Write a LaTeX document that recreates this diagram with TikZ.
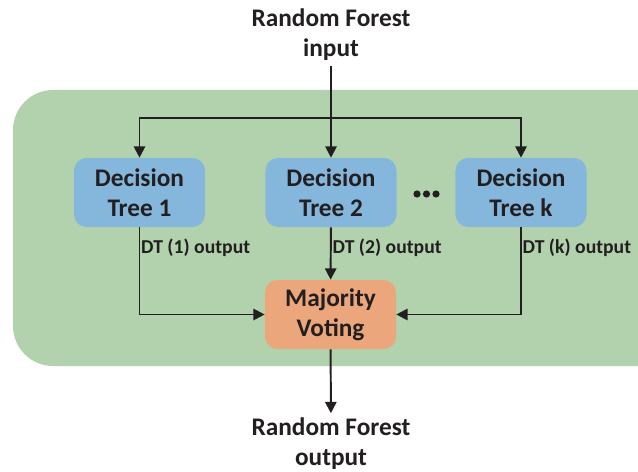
\documentclass[tikz,border=0pt]{standalone}
\usepackage{fontspec}
\setmainfont{Carlito}
\usetikzlibrary{arrows.meta}

\definecolor{panelgreen}{RGB}{178,210,174}
\definecolor{treeblue}{RGB}{133,182,220}
\definecolor{voteorange}{RGB}{235,166,123}
\definecolor{inkdark}{RGB}{35,31,32}

\tikzset{
  box/.style={rounded corners=9pt, minimum width=3.275cm, minimum height=1.725cm,
    align=center, text=inkdark, font=\fontsize{18}{21.3}\selectfont\bfseries},
  tree/.style={box, fill=treeblue},
  vote/.style={box, fill=voteorange},
  title/.style={align=center, text=inkdark, font=\fontsize{18}{21.3}\selectfont\bfseries},
  lab/.style={anchor=west, inner sep=1pt, text=inkdark, font=\fontsize{14}{15}\selectfont\bfseries},
  arr/.style={-{Triangle[length=8pt,width=8pt]}, line width=1.4pt, draw=inkdark}
}

\begin{document}
\begin{tikzpicture}[x=0.025cm, y=-0.025cm]
    \useasboundingbox (0,0) rectangle (638,472);
    % panel
    \fill[panelgreen, rounded corners=1cm] (13,90) rectangle (680,366);

    % input / output
    \node[title] (in) at (331,35) {Random Forest\\input};
    \node[title] (out) at (331,444) {Random Forest\\output};

    % trees
    \node[tree] (t1) at (139.5,192.5) {Decision\\Tree 1};
    \node[tree] (t2) at (331,192.5) {Decision\\Tree 2};
    \node[tree] (tk) at (521,192.5) {Decision\\Tree k};
    \foreach \dx in {417,426.5,436}
      \fill[inkdark] (\dx,194) circle (3.6);

    % voting
    \node[vote] (mv) at (330.5,314.5) {Majority\\Voting};

    % input to trees
    \coordinate (bus) at (331,118);
    \draw[arr] (in) -- (t2);
    \draw[arr] (bus) -| (t1);
    \draw[arr] (bus) -| (tk);

    % trees to voting
    \draw[arr] (t1) |- (mv);
    \draw[arr] (t2) -- (mv);
    \draw[arr] (tk) |- (mv);
    \node[lab] (l1) at (t1.south |- 0,248) {DT (1) output};
    \node[lab] (l2) at (t2.south |- 0,248) {DT (2) output};
    \node[lab] (lk) at (tk.south |- 0,248) {DT (k) output};

    % output
    \draw[arr] (mv) -- (out);
\end{tikzpicture}
\end{document}
